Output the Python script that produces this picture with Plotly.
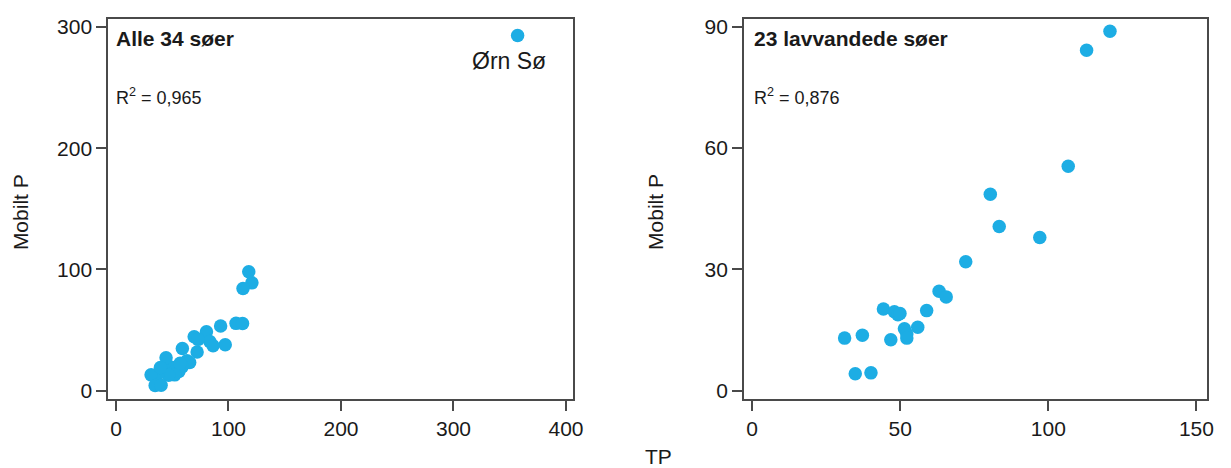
import plotly.graph_objects as go

# 23 shallow lakes (TP, Mobilt P)
shallow_tp = [120.8, 112.9, 106.7, 80.4, 83.4, 97.1, 72.1, 63.1, 65.5, 58.9, 44.3, 48.0,
              49.2, 49.9, 55.9, 51.4, 52.2, 52.2, 46.8, 37.2, 31.2, 34.8, 40.1]
shallow_mp = [88.9, 84.2, 55.5, 48.6, 40.6, 37.9, 31.9, 24.6, 23.2, 19.8, 20.2, 19.5,
              18.8, 19.1, 15.7, 15.3, 14.0, 13.0, 12.6, 13.7, 13.0, 4.2, 4.4]
# remaining deeper lakes (only in "Alle 34 søer")
deep_tp = [118.0, 112.5, 93.0, 69.5, 73.0, 86.3, 59.0, 44.5, 39.5, 57.0]
deep_mp = [98.0, 55.4, 53.3, 44.5, 42.3, 37.0, 34.8, 27.2, 19.0, 22.5]
orn_tp = [357.0]
orn_mp = [293.0]

left_xticks = [0, 100, 200, 300, 400]
left_yticks = [0, 100, 200, 300]
right_xticks = [0, 50, 100, 150]
right_yticks = [0, 30, 60, 90]

COLOR = "#1DADE4"
FONT = "Arial, Liberation Sans, Helvetica, sans-serif"
LINE = "#4a4a4a"
TXT = "#1a1a1a"

all_tp = shallow_tp + deep_tp + orn_tp
all_mp = shallow_mp + deep_mp + orn_mp

fig = go.Figure()
fig.add_trace(go.Scatter(x=all_tp, y=all_mp, mode="markers", xaxis="x", yaxis="y",
                         marker=dict(size=13.5, color=COLOR, line=dict(width=0)),
                         showlegend=False))
fig.add_trace(go.Scatter(x=shallow_tp, y=shallow_mp, mode="markers", xaxis="x2", yaxis="y2",
                         marker=dict(size=13.5, color=COLOR, line=dict(width=0)),
                         showlegend=False))

axis_common = dict(showline=True, mirror=True, linecolor=LINE, linewidth=1.5,
                   ticks="outside", ticklen=10, tickwidth=1.5, tickcolor=LINE,
                   showgrid=False, zeroline=False,
                   tickfont=dict(family=FONT, size=21, color=TXT))

ydom = [1 - 401 / 468, 1 - 16 / 468]
fig.update_layout(
    width=1231, height=468,
    margin=dict(l=0, r=0, t=0, b=0),
    paper_bgcolor="white", plot_bgcolor="white",
    font=dict(family=FONT, color=TXT),
    xaxis=dict(domain=[109 / 1231, 578 / 1231], range=[-7, 406.5],
               tickvals=left_xticks, anchor="y", **axis_common),
    yaxis=dict(domain=ydom, range=[-6.8, 306.8], tickvals=left_yticks,
               anchor="x", **axis_common),
    xaxis2=dict(domain=[750 / 1231, 1217 / 1231], range=[-2.8, 153.6],
                tickvals=right_xticks, anchor="y2", **axis_common),
    yaxis2=dict(domain=ydom, range=[-2.03, 92.0], tickvals=right_yticks,
                anchor="x2", **axis_common),
)

def ann(text, x, y, size, **kw):
    d = dict(text=text, x=x, y=y, xref="paper", yref="paper", showarrow=False,
             font=dict(family=FONT, size=size, color=TXT), xanchor="left", yanchor="middle")
    d.update(kw)
    fig.add_annotation(**d)

ann("<b>Alle 34 søer</b>", 115 / 1231, 1 - 36 / 468, 21)
ann("R<sup>2</sup> = 0,965", 115 / 1231, 1 - 95 / 468, 18)
ann("<b>23 lavvandede søer</b>", 758 / 1231, 1 - 36 / 468, 21)
ann("R<sup>2</sup> = 0,876", 758 / 1231, 1 - 95 / 468, 18)
ann("Mobilt P", 20 / 1231, 1 - 212 / 468, 21, xanchor="center", textangle=-90)
ann("Mobilt P", 661 / 1231, 1 - 212 / 468, 21, xanchor="center", textangle=-90)
ann("TP", 664 / 1231, 1 - 459 / 468, 21, xanchor="center")
fig.add_annotation(text="Ørn Sø", x=orn_tp[0], y=orn_mp[0], xref="x", yref="y",
                   showarrow=False, yshift=-25, xshift=-9, xanchor="center", yanchor="middle",
                   font=dict(family=FONT, size=23, color=TXT))

fig.write_html("out.html")
